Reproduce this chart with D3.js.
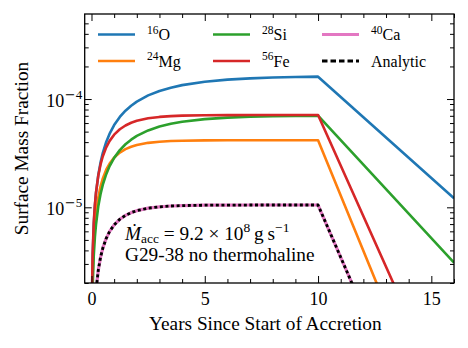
<!DOCTYPE html>
<html>
<head>
<meta charset="utf-8">
<script src="https://cdn.jsdelivr.net/npm/d3@7/dist/d3.min.js"></script>
<style>
  body { margin: 0; background: #fff; }
  svg { display: block; }
  text { font-family: "Liberation Serif", "Times New Roman", serif; fill: #000; }
</style>
</head>
<body>
<svg id="chart"></svg>
<script>
// surface abundances after accretion switches off at t = 10 yr

const years = [0.02, 0.05, 0.1, 0.15, 0.2, 0.3, 0.4, 0.5, 0.65, 0.8, 1.0, 1.25, 1.5, 1.75, 2, 2.5, 3, 3.5, 4, 5, 6, 7, 8, 9, 10, 16];

const o16  = [1.41e-6, 3.5e-6, 6.9e-6, 1.03e-5, 1.36e-5, 1.99e-5, 2.60e-5, 3.18e-5, 4.01e-5, 4.79e-5, 5.75e-5, 6.83e-5, 7.81e-5, 8.68e-5, 9.47e-5, 1.080e-4, 1.188e-4, 1.274e-4, 1.344e-4, 1.445e-4, 1.510e-4, 1.552e-4, 1.580e-4, 1.597e-4, 1.609e-4, 1.21e-5];
const mg24 = [9.7e-7, 2.38e-6, 4.62e-6, 6.73e-6, 8.72e-6, 1.237e-5, 1.561e-5, 1.850e-5, 2.224e-5, 2.537e-5, 2.877e-5, 3.204e-5, 3.448e-5, 3.629e-5, 3.764e-5, 3.940e-5, 4.038e-5, 4.092e-5, 4.122e-5, 4.148e-5, 4.156e-5, 4.159e-5, 4.16e-5, 4.16e-5, 4.16e-5, 3.6e-8];
const si28 = [7.3e-7, 1.81e-6, 3.58e-6, 5.30e-6, 6.97e-6, 1.020e-5, 1.326e-5, 1.617e-5, 2.025e-5, 2.403e-5, 2.862e-5, 3.373e-5, 3.823e-5, 4.217e-5, 4.562e-5, 5.132e-5, 5.572e-5, 5.911e-5, 6.172e-5, 6.529e-5, 6.740e-5, 6.866e-5, 6.941e-5, 6.985e-5, 7.011e-5, 3.08e-6];
const fe56 = [1.51e-6, 3.73e-6, 7.26e-6, 1.060e-5, 1.378e-5, 1.963e-5, 2.489e-5, 2.961e-5, 3.581e-5, 4.107e-5, 4.690e-5, 5.263e-5, 5.701e-5, 6.035e-5, 6.291e-5, 6.636e-5, 6.837e-5, 6.955e-5, 7.023e-5, 7.087e-5, 7.109e-5, 7.116e-5, 7.119e-5, 7.12e-5, 7.12e-5, 1.12e-7];
const ca40 = [5e-8, 1.16e-7, 6.8e-7, 1.21e-6, 1.71e-6, 2.63e-6, 3.46e-6, 4.20e-6, 5.17e-6, 5.99e-6, 6.89e-6, 7.76e-6, 8.43e-6, 8.93e-6, 9.31e-6, 9.82e-6, 1.011e-5, 1.028e-5, 1.037e-5, 1.046e-5, 1.049e-5, 1.05e-5, 1.05e-5, 1.05e-5, 1.05e-5, 1.33e-8];
const analytic = [5e-8, 1.16e-7, 6.8e-7, 1.21e-6, 1.71e-6, 2.63e-6, 3.46e-6, 4.20e-6, 5.17e-6, 5.99e-6, 6.89e-6, 7.76e-6, 8.43e-6, 8.93e-6, 9.31e-6, 9.82e-6, 1.011e-5, 1.028e-5, 1.037e-5, 1.046e-5, 1.049e-5, 1.05e-5, 1.05e-5, 1.05e-5, 1.05e-5, 1.33e-8];

const xMajorTicks = [0, 5, 10, 15];
const xMinorTicks = [1, 2, 3, 4, 6, 7, 8, 9, 11, 12, 13, 14, 16];
const yMajorTicks = [1e-5, 1e-4];
const yMajorExps = ['5', '4'];
const yMinorTicks = [2e-6, 3e-6, 4e-6, 5e-6, 6e-6, 7e-6, 8e-6, 9e-6, 2e-5, 3e-5, 4e-5, 5e-5, 6e-5, 7e-5, 8e-5, 9e-5, 2e-4, 3e-4, 4e-4, 5e-4];

const SERIES = [
    { values: o16,      sup: '16', name: 'O',        color: '#1f77b4', width: 2.6 },
    { values: mg24,     sup: '24', name: 'Mg',       color: '#ff7f0e', width: 2.6 },
    { values: si28,     sup: '28', name: 'Si',       color: '#2ca02c', width: 2.6 },
    { values: fe56,     sup: '56', name: 'Fe',       color: '#d62728', width: 2.6 },
    { values: ca40,     sup: '40', name: 'Ca',       color: '#e377c2', width: 3.2 },
    { values: analytic, sup: '',   name: 'Analytic', color: '#000000', width: 2.8, dash: '3,2.6' },
];

const W = 468, H = 348;
const M = { top: 14, right: 14, bottom: 65, left: 84.7 };
const iW = W - M.left - M.right;
const iH = H - M.top - M.bottom;

const svg = d3.select('#chart').attr('width', W).attr('height', H);
const g = svg.append('g').attr('transform', `translate(${M.left},${M.top})`);

const x = d3.scaleLinear().domain([-0.3, 16]).range([0, iW]);
const y = d3.scaleLog().domain([2e-6, 6.1e-4]).range([iH, 0]);

g.append('clipPath').attr('id', 'plot-clip')
    .append('rect').attr('width', iW).attr('height', iH);

// ── Lines ────────────────────────────────────────────────────────────────
const line = d3.line()
    .x((d, i) => x(years[i]))
    .y(d => y(d));

const lines = g.append('g').attr('clip-path', 'url(#plot-clip)');
SERIES.forEach(s => {
    lines.append('path')
        .attr('d', line(s.values))
        .attr('fill', 'none')
        .attr('stroke', s.color)
        .attr('stroke-width', s.width)
        .attr('stroke-linejoin', 'round')
        .attr('stroke-dasharray', s.dash || null);
});

// ── Axes (ticks inward on all four sides) ─────────────────────────────────
function styleAxis(sel) {
    sel.attr('font-family', null).attr('font-size', null);
    sel.select('.domain').remove();
    sel.selectAll('.tick line').attr('stroke', '#000').attr('stroke-width', 1);
}

const fontTick = 18;

g.append('g').attr('transform', `translate(0,${iH})`)
    .call(d3.axisBottom(x).tickValues(xMajorTicks).tickSize(-7).tickPadding(9).tickFormat(d3.format('d')))
    .call(styleAxis)
    .call(a => a.selectAll('text').attr('font-size', fontTick));
g.append('g').attr('transform', `translate(0,${iH})`)
    .call(d3.axisBottom(x).tickValues(xMinorTicks).tickSize(-4).tickFormat(''))
    .call(styleAxis);
g.append('g')
    .call(d3.axisTop(x).tickValues(xMajorTicks).tickSize(-7).tickFormat(''))
    .call(styleAxis);
g.append('g')
    .call(d3.axisTop(x).tickValues(xMinorTicks).tickSize(-4).tickFormat(''))
    .call(styleAxis);

const yAxisG = g.append('g')
    .call(d3.axisLeft(y).tickValues(yMajorTicks).tickSize(-7).tickPadding(2.5).tickFormat(''))
    .call(styleAxis);
yAxisG.selectAll('.tick text')
    .attr('font-size', fontTick)
    .attr('dy', '0.4em')
    .each(function (d, i) {
        const t = d3.select(this);
        t.append('tspan').text('10');
        t.append('tspan').attr('font-size', 13).attr('font-family', '"DejaVu Serif", serif')
            .attr('dx', 0.5).attr('dy', '-0.6em').text('\u2212');
        t.append('tspan').attr('font-size', 13).text(yMajorExps[i]);
    });
g.append('g')
    .call(d3.axisLeft(y).tickValues(yMinorTicks).tickSize(-4).tickFormat(''))
    .call(styleAxis);
g.append('g').attr('transform', `translate(${iW},0)`)
    .call(d3.axisRight(y).tickValues(yMajorTicks).tickSize(-7).tickFormat(''))
    .call(styleAxis);
g.append('g').attr('transform', `translate(${iW},0)`)
    .call(d3.axisRight(y).tickValues(yMinorTicks).tickSize(-4).tickFormat(''))
    .call(styleAxis);

g.append('rect')
    .attr('width', iW).attr('height', iH)
    .attr('fill', 'none').attr('stroke', '#000').attr('stroke-width', 1.3);

// ── Axis titles ───────────────────────────────────────────────────────────
svg.append('text')
    .attr('x', M.left + iW / 2 - 4).attr('y', 330)
    .attr('text-anchor', 'middle').attr('font-size', 19.3)
    .text('Years Since Start of Accretion');

svg.append('text')
    .attr('transform', `translate(28,${M.top + iH / 2}) rotate(-90)`)
    .attr('text-anchor', 'middle').attr('font-size', 19.3)
    .text('Surface Mass Fraction');

// ── Legend ────────────────────────────────────────────────────────────────
const legendCols = [98, 213, 322];
const legendRows = [34.5, 61];
const legend = svg.append('g');
SERIES.forEach((s, i) => {
    const lx = legendCols[Math.floor(i / 2)];
    const ly = legendRows[i % 2];
    legend.append('line')
        .attr('x1', lx).attr('x2', lx + 37).attr('y1', ly).attr('y2', ly)
        .attr('stroke', s.color).attr('stroke-width', s.width)
        .attr('stroke-dasharray', s.dash ? '5.5,3' : null);
    const t = legend.append('text')
        .attr('x', lx + 49).attr('y', ly + 5.5)
        .attr('font-size', 16);
    if (s.sup) {
        t.append('tspan').attr('font-size', 11.5).attr('dy', -6.5).text(s.sup);
        t.append('tspan').attr('dy', 6.5).text(s.name);
    } else {
        t.text(s.name);
    }
});

// ── Annotation ────────────────────────────────────────────────────────────
const ann = svg.append('text').attr('x', 125).attr('y', 240).attr('font-size', 19.3);
ann.append('tspan').attr('font-style', 'italic').text('\u1E40');
ann.append('tspan').attr('font-size', 13.5).attr('dy', 2.5).text('acc');
ann.append('tspan').attr('dy', -2.5).text(' = 9.2 \u00D7 10');
ann.append('tspan').attr('font-size', 13.5).attr('dy', -8).text('8');
ann.append('tspan').attr('dy', 8).text('\u2009g\u2009s');
ann.append('tspan').attr('font-size', 13.5).attr('dy', -8).text('\u22121');

svg.append('text').attr('x', 125).attr('y', 261).attr('font-size', 19.3)
    .text('G29-38 no thermohaline');
</script>
</body>
</html>
